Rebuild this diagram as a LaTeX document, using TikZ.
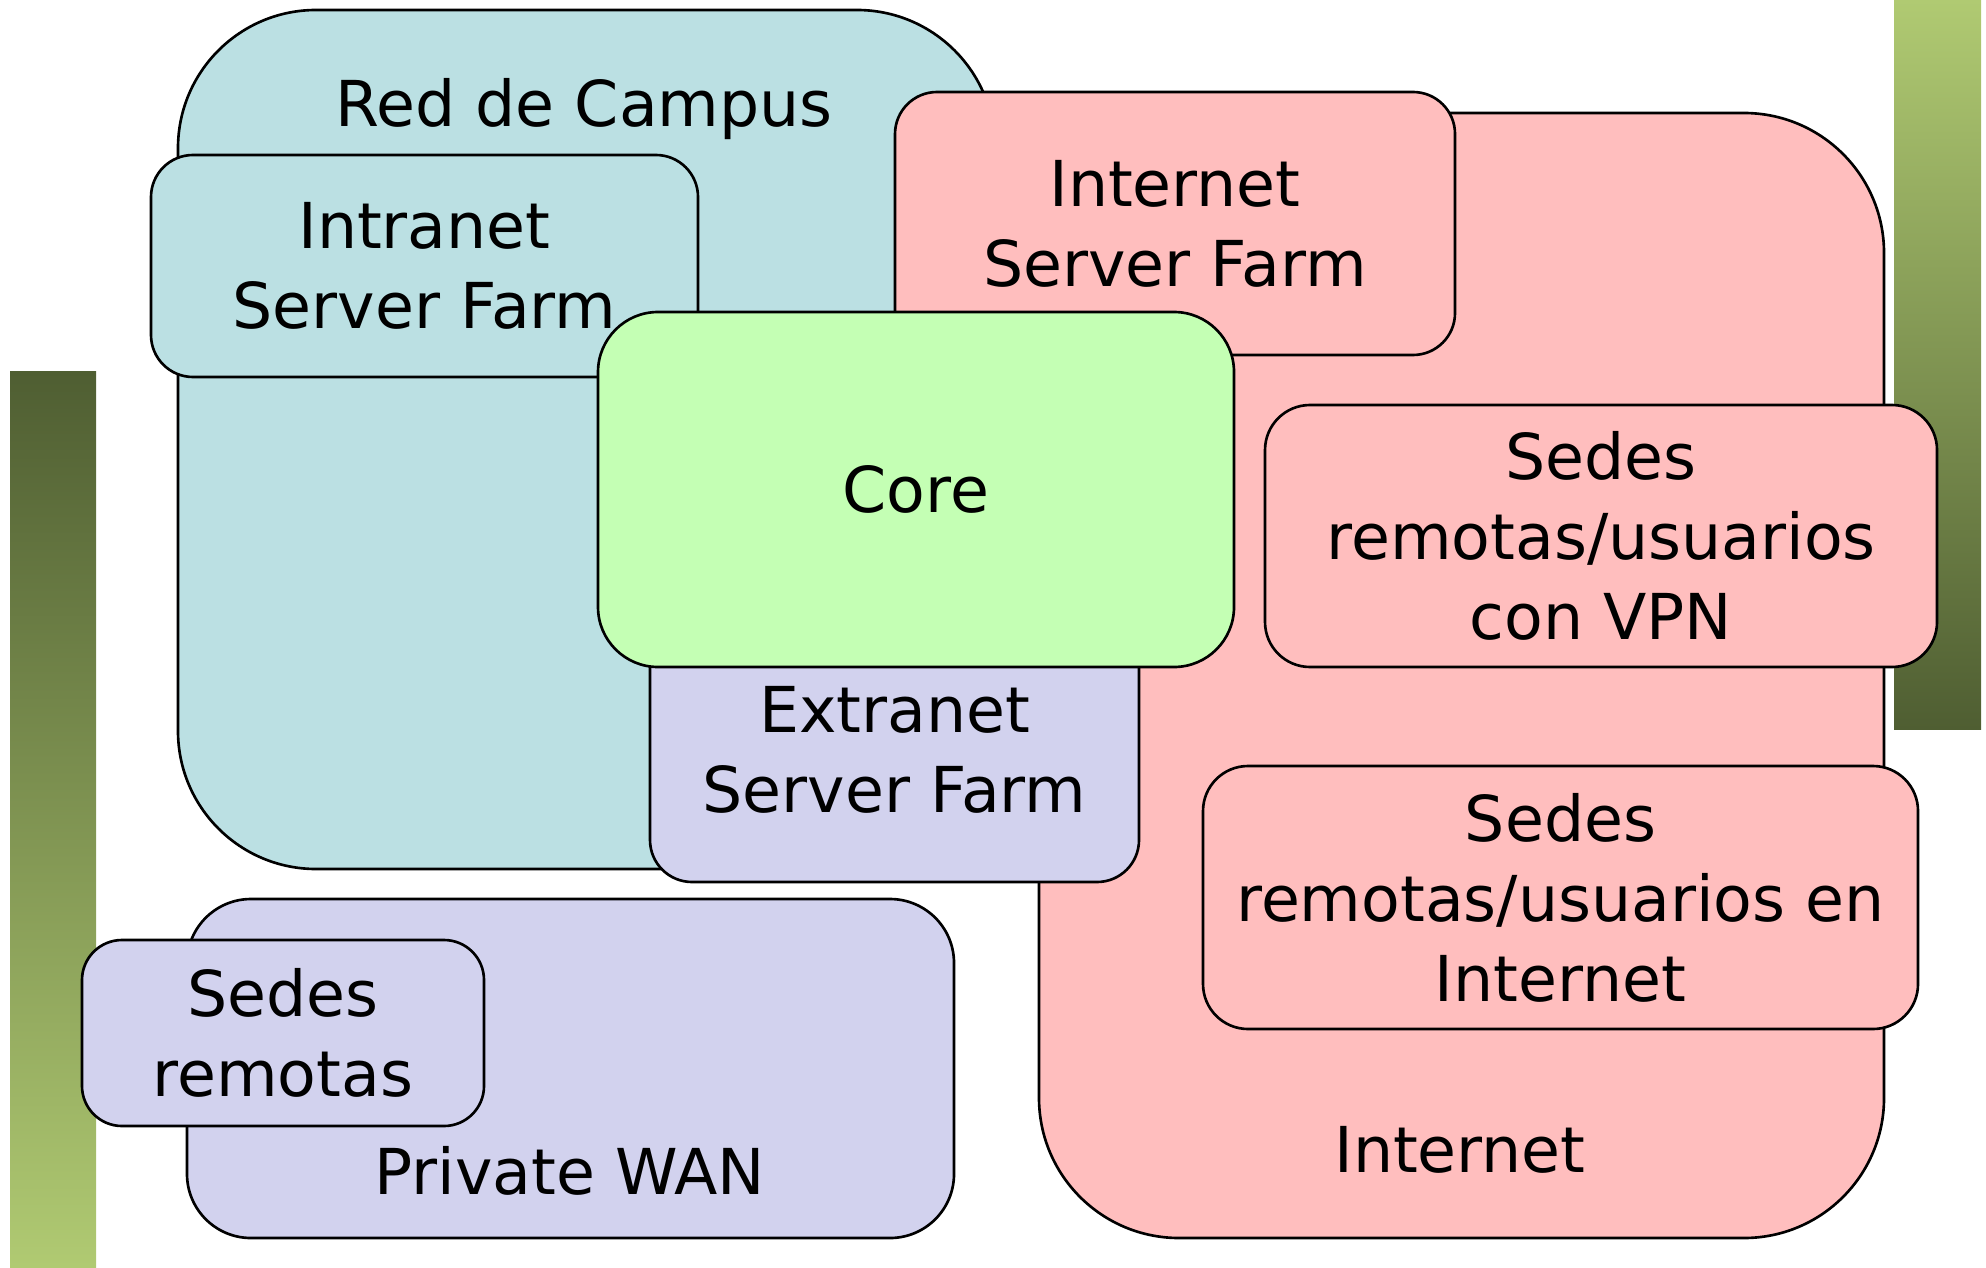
\documentclass[tikz,border=0pt]{standalone}
\usepackage{fontspec}
\setmainfont{DejaVu Sans}
\usetikzlibrary{fit}
\definecolor{campusblue}{HTML}{BBE0E3}
\definecolor{inetpink}{HTML}{FFBEBE}
\definecolor{coregreen}{HTML}{C4FFB4}
\definecolor{lavender}{HTML}{D2D2EE}
\definecolor{oliveD}{HTML}{4F5E32}
\definecolor{oliveL}{HTML}{B0CA72}
\begin{document}
\begin{tikzpicture}[x=0.01cm, y=-0.01cm,
  region/.style={draw=black, line width=0.75pt, inner sep=0pt, outer sep=0pt},
  txt/.style={inner sep=0pt, align=center,
    font=\fontsize{18}{22.76}\selectfont},
  lbl/.style={inner sep=0pt, anchor=base, font=\fontsize{18}{22.76}\selectfont}]
\useasboundingbox (0,0) rectangle (1986,1267);
% decorative bars
\fill[top color=oliveD, bottom color=oliveL] (10,371) rectangle (96,1267);
\fill[top color=oliveL, bottom color=oliveD] (1894,0) rectangle (1981,729);
% Red de Campus
\node[region, fill=campusblue, rounded corners=1.38cm, fit={(178,10) (995,869)}] (campus) {};
\node[lbl] (campuslbl) at (584,127) {Red de Campus};
\node[region, fill=campusblue, rounded corners=0.42cm, fit={(151,155) (698,377)}] (intranet) {};
\node[txt] (intranet-t) at (intranet.center) {Intranet\\Server Farm};
% Internet
\node[region, fill=inetpink, rounded corners=1.4cm, fit={(1039,113) (1884,1238)}] (internet) {};
\node[lbl] (internetlbl) at (1460,1172) {Internet};
\node[region, fill=inetpink, rounded corners=0.42cm, fit={(895,92) (1455,355)}] (isf) {};
\node[txt] (isf-t) at (isf.center) {Internet\\Server Farm};
% Extranet
\node[region, fill=lavender, rounded corners=0.42cm, fit={(650,618) (1139,882)}] (extranet) {};
\node[txt] (extranet-t) at (extranet.center) {Extranet\\Server Farm};
% Core
\node[region, fill=coregreen, rounded corners=0.6cm, fit={(598,312) (1234,667)}] (core) {};
\node[txt] (core-t) at (core.center) {Core};
% remote sites
\node[region, fill=inetpink, rounded corners=0.45cm, fit={(1265,405) (1937,667)}] (vpn) {};
\node[txt] (vpn-t) at (vpn.center) {Sedes\\remotas/usuarios\\con VPN};
\node[region, fill=inetpink, rounded corners=0.45cm, fit={(1203,766) (1918,1029)}] (eninet) {};
\node[txt] (eninet-t) at (eninet.center) {Sedes\\remotas/usuarios en\\Internet};
% Private WAN
\node[region, fill=lavender, rounded corners=0.64cm, fit={(187,899) (954,1238)}] (wan) {};
\node[lbl] (wanlbl) at (570,1194) {Private WAN};
\node[region, fill=lavender, rounded corners=0.4cm, fit={(82,940) (484,1126)}] (sedes) {};
\node[txt] (sedes-t) at (sedes.center) {Sedes\\remotas};
\end{tikzpicture}
\end{document}
